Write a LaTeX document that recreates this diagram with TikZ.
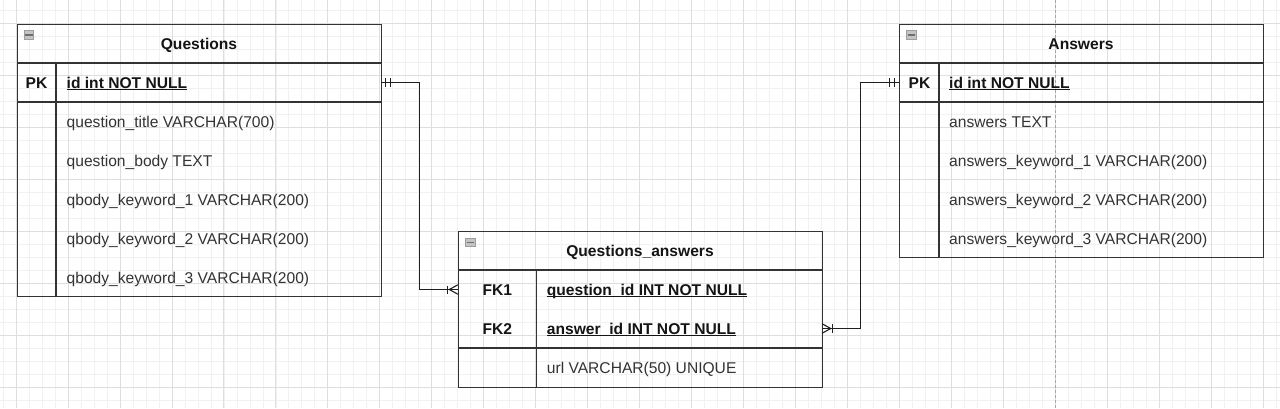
\documentclass[tikz,border=0pt]{standalone}
\usepackage{fontspec}
\setmainfont{Liberation Sans}
\definecolor{minorg}{HTML}{F1F1F1}
\definecolor{majorg}{HTML}{DEDEDE}
\definecolor{tblline}{HTML}{333333}
\definecolor{txt}{HTML}{333333}
\definecolor{btxt}{HTML}{141414}
\definecolor{icofill}{HTML}{C4C4C4}
\definecolor{icobar}{HTML}{6E6E6E}
\newcommand\ulx[1]{\setbox0\hbox{#1}\rlap{\rule[-1.7pt]{\wd0}{1.1pt}}\box0}
\begin{document}
\begin{tikzpicture}[x=1pt,y=-1pt,
  tbl/.style={draw=tblline, line width=1.3pt, rectangle, inner sep=0pt, anchor=north west},
  tline/.style={draw=tblline, line width=1.3pt},
  rowbox/.style={rectangle, inner sep=0pt, minimum width=364pt, minimum height=39pt},
  fld/.style={inner sep=0pt, anchor=base west, text=txt, font=\fontsize{15.6}{18}\selectfont},
  bfld/.style={inner sep=0pt, anchor=base west, text=btxt, font=\fontsize{15.6}{18}\selectfont\bfseries},
  ctr/.style={bfld, anchor=base},
  conn/.style={draw=black!88, line width=1.3pt},
  ermk/.style={draw=black!88, line width=1.1pt},
  icon/.style={fill=icofill, draw=icofill!80!black},
]
\useasboundingbox (0,0) rectangle (1280,408);
\fill[white] (0,0) rectangle (1280,408);
% grid
\foreach \i in {-1,...,97} \draw[minorg, line width=0.8pt] ({16.1+12.99*\i},0) -- ({16.1+12.99*\i},408);
\foreach \j in {-2,...,30} \draw[minorg, line width=0.8pt] (0,{23.3+12.99*\j}) -- (1280,{23.3+12.99*\j});
\foreach \i in {0,...,24} \draw[majorg, line width=0.9pt] ({16.1+51.96*\i},0) -- ({16.1+51.96*\i},408);
\foreach \j in {0,...,7} \draw[majorg, line width=0.9pt] (0,{23.3+51.96*\j}) -- (1280,{23.3+51.96*\j});
\draw[black!35, line width=0.9pt, dash pattern=on 3pt off 2pt] (1055.3,0) -- (1055.3,408);

% ---------- Questions ----------
\node[tbl, minimum width=364pt, minimum height=272pt] (q) at (17,24) {};
\draw[tline] (17,63) -- (381,63);
\draw[tline] (17,102) -- (381,102);
\draw[tline] (56,63) -- (56,296);
\node[rowbox] (qpk) at (199,82.5) {};
\node[ctr] (qtitle) at (199,49.3) {Questions};
\node[ctr] (qpkl) at (36.5,88.5) {PK};
\node[bfld] (qid) at (66.5,88.5) {\ulx{id int NOT NULL}};
\node[fld] (q1) at (66.5,127) {question\_title VARCHAR(700)};
\node[fld] (q2) at (66.5,166) {question\_body TEXT};
\node[fld] (q3) at (66.5,205) {qbody\_keyword\_1 VARCHAR(200)};
\node[fld] (q4) at (66.5,244) {qbody\_keyword\_2 VARCHAR(200)};
\node[fld] (q5) at (66.5,283) {qbody\_keyword\_3 VARCHAR(200)};
\filldraw[icon] (24,30.5) rectangle (33.5,39);
\draw[icobar, line width=1.6pt] (25,34.8) -- (32.5,34.8);

% ---------- Answers ----------
\node[tbl, minimum width=364pt, minimum height=233pt] (a) at (899,24) {};
\draw[tline] (899,63) -- (1263,63);
\draw[tline] (899,102) -- (1263,102);
\draw[tline] (939,63) -- (939,257);
\node[rowbox] (apk) at (1081,82.5) {};
\node[ctr] (atitle) at (1081,49.3) {Answers};
\node[ctr] (apkl) at (919.5,88.5) {PK};
\node[bfld] (aid) at (949,88.5) {\ulx{id int NOT NULL}};
\node[fld] (a1) at (949,127) {answers TEXT};
\node[fld] (a2) at (949,166) {answers\_keyword\_1 VARCHAR(200)};
\node[fld] (a3) at (949,205) {answers\_keyword\_2 VARCHAR(200)};
\node[fld] (a4) at (949,244) {answers\_keyword\_3 VARCHAR(200)};
\filldraw[icon] (906.5,30.5) rectangle (916,39);
\draw[icobar, line width=1.6pt] (907.5,34.8) -- (915,34.8);

% ---------- Questions_answers ----------
\node[tbl, minimum width=364pt, minimum height=156pt] (qa) at (458,231) {};
\draw[tline] (458,270) -- (822,270);
\draw[tline] (458,348) -- (822,348);
\draw[tline] (536.5,270) -- (536.5,387);
\node[rowbox] (fk1) at (640,289.5) {};
\node[rowbox] (fk2) at (640,328.5) {};
\node[ctr] (qatitle) at (640,256.3) {Questions\_answers};
\node[ctr] (fk1l) at (497.3,295.5) {FK1};
\node[ctr] (fk2l) at (497.3,334.3) {FK2};
\node[bfld] (fk1t) at (546.7,295.5) {\ulx{question\_id INT NOT NULL}};
\node[bfld] (fk2t) at (546.7,334.3) {\ulx{answer\_id INT NOT NULL}};
\node[fld] (url) at (546.7,373.3) {url VARCHAR(50) UNIQUE};
\filldraw[icon] (465.5,238) rectangle (475,246.5);
\draw[icobar, line width=1.6pt] (466.5,242.3) -- (474,242.3);

% ---------- connectors ----------
\draw[conn] (qpk.east) -- ++(38.5,0) |- (fk1.west);
\draw[conn] (fk2.east) -- ++(38.5,0) |- (apk.west);
% one-and-only-one marks
\draw[ermk] ([xshift=4.2pt,yshift=-4.5pt]qpk.east) -- ([xshift=4.2pt,yshift=4.5pt]qpk.east);
\draw[ermk] ([xshift=9.7pt,yshift=-4.5pt]qpk.east) -- ([xshift=9.7pt,yshift=4.5pt]qpk.east);
\draw[ermk] ([xshift=-4.3pt,yshift=-4.5pt]apk.west) -- ([xshift=-4.3pt,yshift=4.5pt]apk.west);
\draw[ermk] ([xshift=-9.7pt,yshift=-4.5pt]apk.west) -- ([xshift=-9.7pt,yshift=4.5pt]apk.west);
% one-to-many marks
\draw[ermk] ([yshift=4.7pt]fk1.west) -- ([xshift=-8.5pt]fk1.west) -- ([yshift=-4.7pt]fk1.west);
\draw[ermk] ([xshift=-10pt,yshift=-4pt]fk1.west) -- ([xshift=-10pt,yshift=4pt]fk1.west);
\draw[ermk] ([yshift=4.7pt]fk2.east) -- ([xshift=8.5pt]fk2.east) -- ([yshift=-4.7pt]fk2.east);
\draw[ermk] ([xshift=10pt,yshift=-4.5pt]fk2.east) -- ([xshift=10pt,yshift=4.5pt]fk2.east);
\end{tikzpicture}
\end{document}
